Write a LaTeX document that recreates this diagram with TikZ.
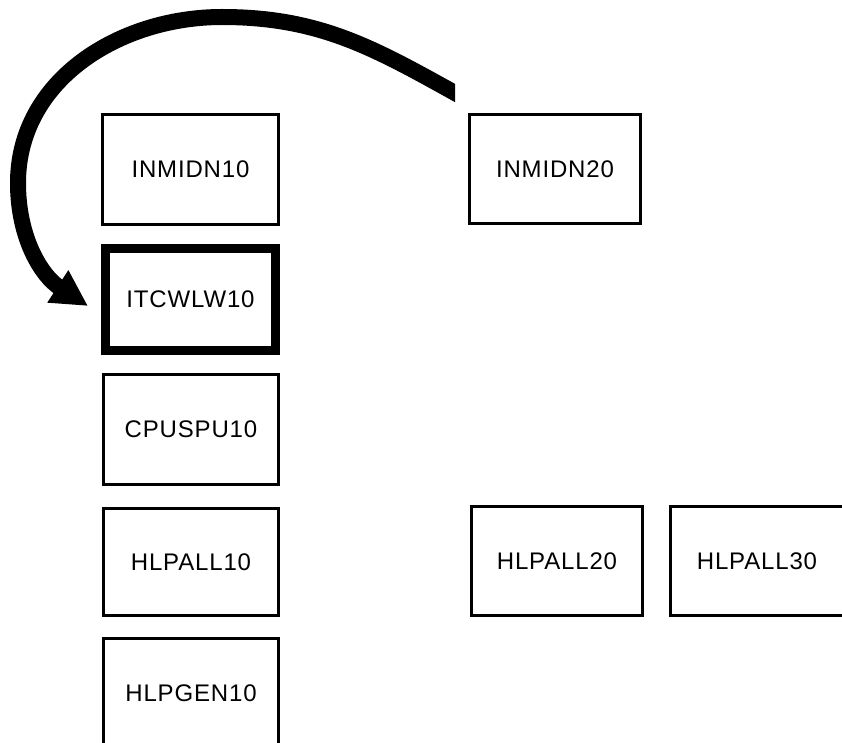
\documentclass[tikz,border=0pt]{standalone}
\usepackage{fontspec}
\setmainfont[LetterSpace=3.5]{Liberation Sans}
\usetikzlibrary{arrows.meta}
\begin{document}
\begin{tikzpicture}[x=1pt,y=1pt,
  box/.style={draw,line width=3pt,minimum width=176pt,minimum height=110pt,inner sep=0pt,
    font=\fontsize{24}{24}\selectfont},
  thickbox/.style={box,line width=9pt,minimum width=170pt,minimum height=102pt},
  bigarrow/.style={line width=16pt,-{Triangle[length=36pt,width=36pt]}}]
\useasboundingbox (0,0) rectangle (842,-743);
\node[box] (inmidn10) at (190.5,-169.5) {INMIDN10};
\node[thickbox] (itcwlw10) at (190.5,-299.5) {ITCWLW10};
\node[box,minimum width=175pt] (cpuspu10) at (191,-429.5) {CPUSPU10};
\node[box,minimum width=175pt,minimum height=107pt] (hlpall10) at (191,-562) {HLPALL10};
\node[box,minimum width=175pt] (hlpgen10) at (191,-693.5) {HLPGEN10};
\node[box,minimum width=171pt,minimum height=109pt] (inmidn20) at (555,-169) {INMIDN20};
\node[box,minimum width=171pt,minimum height=109pt] (hlpall20) at (557,-561) {HLPALL20};
\node[box,minimum width=173pt,minimum height=109pt] (hlpall30) at (757,-561) {HLPALL30};
\coordinate (s) at (464,-98);
\coordinate (t) at (222,-17);
\coordinate (l) at (18,-183);
\coordinate (e) at (88,-306);
\begin{scope}
\clip (0,0) rectangle (455,-743);
\draw[bigarrow] (s) to[out=151,in=0] (t) to[out=180,in=90] (l) to[out=-90,in=147] (e);
\end{scope}
\end{tikzpicture}
\end{document}
